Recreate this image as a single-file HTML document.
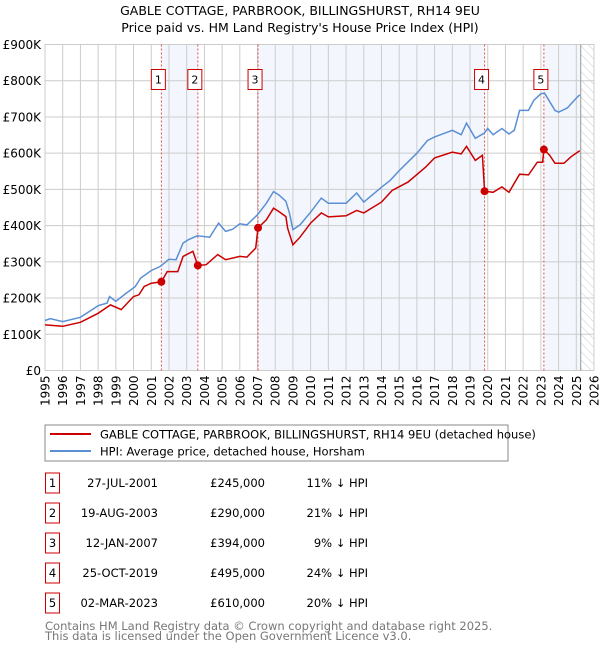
<!DOCTYPE html>
<html><head><meta charset="utf-8"><style>
body{margin:0;background:#fff;font-family:"DejaVu Sans","Liberation Sans",sans-serif;}
svg text{font-family:"DejaVu Sans","Liberation Sans",sans-serif;}
</style></head><body>
<svg id="c" width="600" height="650" viewBox="0 0 600 650" xmlns="http://www.w3.org/2000/svg">
<defs><pattern id="hatch" width="6" height="6" patternUnits="userSpaceOnUse" patternTransform="rotate(-45)"><line x1="0" y1="0" x2="0" y2="6" stroke="#ccc" stroke-width="1"/></pattern></defs>
<text x="300" y="15" text-anchor="middle" font-size="12.5" fill="#000">GABLE COTTAGE, PARBROOK, BILLINGSHURST, RH14 9EU</text>
<text x="300" y="32" text-anchor="middle" font-size="12.5" fill="#000">Price paid vs. HM Land Registry's House Price Index (HPI)</text>
<g id="plot"></g>
<rect x="45" y="425" width="463" height="36" fill="#fff" stroke="#888"/>
<line x1="50" y1="434" x2="91" y2="434" stroke="#cc0000" stroke-width="2"/>
<text x="100" y="438.5" font-size="11.5">GABLE COTTAGE, PARBROOK, BILLINGSHURST, RH14 9EU (detached house)</text>
<line x1="50" y1="451" x2="91" y2="451" stroke="#5b8fd4" stroke-width="2"/>
<text x="100" y="455.5" font-size="11.5">HPI: Average price, detached house, Horsham</text>
<g id="table"></g>
<text x="45" y="630" font-size="11.5" fill="#777">Contains HM Land Registry data © Crown copyright and database right 2025.</text>
<text x="45" y="640" font-size="11.5" fill="#777">This data is licensed under the Open Government Licence v3.0.</text>
</svg>
<script>
const hpiYears=[1995,1995.3,1996,1997,1997.5,1998,1998.5,1998.65,1999,1999.6,2000.1,2000.4,2001,2001.5,2002,2002.4,2002.8,2003.1,2003.6,2004.3,2004.8,2005.2,2005.6,2006,2006.4,2007,2007.5,2007.9,2008.2,2008.6,2008.8,2009,2009.4,2010,2010.6,2011,2012,2012.6,2013,2014,2014.5,2015,2016,2016.6,2017,2018,2018.5,2018.8,2019.3,2019.8,2020,2020.3,2020.8,2021.2,2021.5,2021.8,2022.3,2022.6,2023,2023.2,2023.5,2023.8,2024,2024.5,2025,2025.2];
const hpiValues=[138,143,135,147,163,179,186,204,191,214,232,255,276,287,307,306,352,361,372,368,407,384,390,405,402,430,462,494,485,467,435,389,402,437,476,462,462,490,465,506,525,552,600,635,645,663,651,683,641,655,668,651,668,653,663,718,718,746,764,766,742,718,713,725,752,761];
const ppYears=[1995,1996,1997,1998,1998.7,1999.3,2000,2000.3,2000.6,2001,2001.57,2001.9,2002.5,2002.8,2003.35,2003.63,2004.1,2004.75,2005.2,2006,2006.4,2006.9,2007.03,2007.5,2007.9,2008.2,2008.6,2008.7,2009,2009.4,2010,2010.6,2011,2012,2012.6,2013,2014,2014.6,2015.5,2016.5,2017,2018,2018.5,2018.8,2019.3,2019.7,2019.82,2020.3,2020.8,2021.2,2021.8,2022.3,2022.8,2023.1,2023.17,2023.5,2023.8,2024.3,2024.7,2025.2];
const ppValues=[126,122,133,158,181,168,204,209,232,241,245,273,273,315,329,290,292,320,306,315,313,338,394,416,448,439,425,393,347,368,407,435,424,427,442,435,465,497,520,562,587,603,598,619,580,594,495,492,507,492,542,540,575,575,610,594,572,572,590,607];
const saleYears=[2001.57,2003.63,2007.03,2019.82,2023.17];
const saleValues=[245,290,394,495,610];
const saleDates=["27-JUL-2001","19-AUG-2003","12-JAN-2007","25-OCT-2019","02-MAR-2023"];
const salePrices=["£245,000","£290,000","£394,000","£495,000","£610,000"];
const saleDiffs=["11% ↓ HPI","21% ↓ HPI","9% ↓ HPI","24% ↓ HPI","20% ↓ HPI"];
const yTicks=[0,100,200,300,400,500,600,700,800,900];
const yTickLabels=["£0","£100K","£200K","£300K","£400K","£500K","£600K","£700K","£800K","£900K"];
const xTicks=[1995,1996,1997,1998,1999,2000,2001,2002,2003,2004,2005,2006,2007,2008,2009,2010,2011,2012,2013,2014,2015,2016,2017,2018,2019,2020,2021,2022,2023,2024,2025,2026];

const NS="http://www.w3.org/2000/svg";
const X0=45,X1=594,Y0=370.5,Y1=44.5,xMin=1995,xMax=2026,vMax=900,dataEnd=2025.25;
const xs=v=>X0+(v-xMin)/(xMax-xMin)*(X1-X0);
const ys=v=>Y0-v/vMax*(Y0-Y1);
const plot=document.getElementById('plot');
function mk(tag,attrs,parent){const e=document.createElementNS(NS,tag);for(const k in attrs)e.setAttribute(k,attrs[k]);(parent||plot).appendChild(e);return e;}

const bands=[[saleYears[0],saleYears[1]],[saleYears[2],saleYears[3]],[saleYears[4],dataEnd]];
bands.forEach((b)=>{const r=mk('rect',{x:xs(b[0]),y:Y1,width:xs(b[1])-xs(b[0]),height:Y0-Y1,fill:'#eef3fc',opacity:0.7});

});
const hr=mk('rect',{x:xs(dataEnd),y:Y1,width:X1-xs(dataEnd),height:Y0-Y1,fill:'url(#hatch)'});


yTicks.forEach((t,i)=>{const l=mk('line',{x1:X0,x2:X1,y1:ys(t),y2:ys(t),stroke:'#cccccc','stroke-width':1});


const tx=mk('text',{x:X0-4,y:ys(t)+4.5,'text-anchor':'end','font-size':12});tx.textContent=yTickLabels[i];

});
xTicks.forEach(t=>{const l=mk('line',{x1:xs(t),x2:xs(t),y1:Y1,y2:Y0,stroke:'#cccccc','stroke-width':1});


const tx=mk('text',{x:0,y:0,'text-anchor':'end','font-size':12,transform:`translate(${xs(t)+4.5},${Y0+5}) rotate(-90)`});tx.textContent=t;

});
const bd=mk('rect',{x:X0,y:Y1,width:X1-X0,height:Y0-Y1,fill:'none',stroke:'#cccccc'});


const el=mk('line',{x1:xs(dataEnd),x2:xs(dataEnd),y1:Y1,y2:Y0,stroke:'#999','stroke-width':1});


saleYears.forEach((s,i)=>{const l=mk('line',{x1:xs(s),x2:xs(s),y1:Y1,y2:Y0,stroke:'#e05050','stroke-width':1,'stroke-dasharray':'2,2'});


const bx=xs(s)-10;
const r=mk('rect',{x:bx,y:69.5,width:14,height:20,fill:'#fff',stroke:'#cc0000'});


const t=mk('text',{x:bx+7,y:83.5,'text-anchor':'middle','font-size':11});t.textContent=i+1;

});
function path(xa,va){return xa.map((x,i)=>(i?'L':'M')+xs(x).toFixed(1)+','+ys(va[i]).toFixed(1)).join('');}
const hp=mk('path',{d:path(hpiYears,hpiValues),fill:'none',stroke:'#5b8fd4','stroke-width':1.5});


const pp=mk('path',{d:path(ppYears,ppValues),fill:'none',stroke:'#cc0000','stroke-width':1.5});


saleYears.forEach((s,i)=>{const c=mk('circle',{cx:xs(s),cy:ys(saleValues[i]),r:4,fill:'#cc0000'});

});
const tb=document.getElementById('table');
saleDates.forEach((d,i)=>{const y=483+i*30;
const r=mk('rect',{x:45.5,y:y-10,width:14,height:20,fill:'#fff',stroke:'#cc0000'},tb);


const n=mk('text',{x:52.5,y:y+4,'text-anchor':'middle','font-size':11.5},tb);n.textContent=i+1;


const a=mk('text',{x:158,y:y+4,'text-anchor':'end','font-size':11.5},tb);a.textContent=d;


const p=mk('text',{x:265,y:y+4,'text-anchor':'end','font-size':11.5},tb);p.textContent=salePrices[i];


const h=mk('text',{x:368,y:y+4,'text-anchor':'end','font-size':11.5},tb);h.textContent=saleDiffs[i];

});
</script>
</body></html>
